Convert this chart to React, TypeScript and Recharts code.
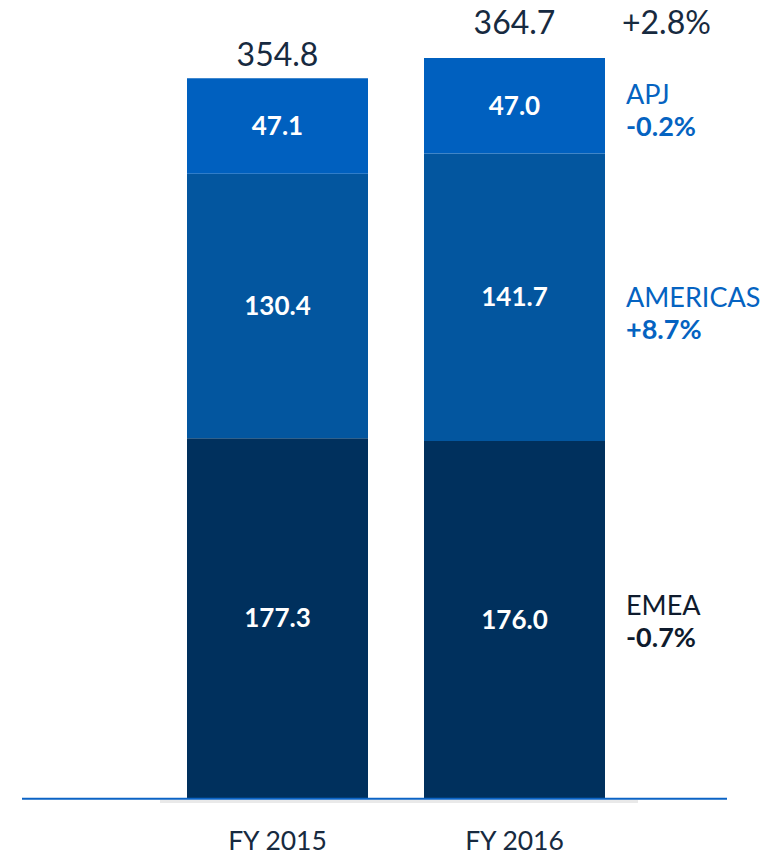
import { Bar, BarChart, LabelList, ReferenceLine, XAxis, YAxis } from 'recharts';

const categories = ['FY 2015', 'FY 2016'];
const emeaValues = [177.3, 176.0];
const americasValues = [130.4, 141.7];
const apjValues = [47.1, 47.0];
const totalValues = [354.8, 364.7];
const regionNames = { emea: 'EMEA', americas: 'AMERICAS', apj: 'APJ' };
const regionChanges = { emea: '-0.7%', americas: '+8.7%', apj: '-0.2%' };
const totalChange = '+2.8%';

const FONT = 'Lato, "Open Sans", sans-serif';
const NAVY_TEXT = '#172a40';

const data = categories.map((name, i) => ({
  name,
  emea: emeaValues[i],
  americas: americasValues[i],
  apj: apjValues[i],
  total: totalValues[i],
}));

const series = [
  { key: 'emea', color: '#00305d', text: '#0f1b2d', dy: 1 },
  { key: 'americas', color: '#03569f', text: '#0563c1', dy: 15 },
  { key: 'apj', color: '#0060bf', text: '#0563c1', dy: 4 },
] as const;

const box = (p: any) => {
  const v = p.viewBox || {};
  return {
    x: Number(p.x ?? v.x),
    y: Number(p.y ?? v.y),
    width: Number(p.width ?? v.width),
    height: Number(p.height ?? v.height),
  };
};

function RegionLabel(props: any, s: (typeof series)[number]) {
  if (props.index !== categories.length - 1) return null;
  const { x, y, width, height } = box(props);
  const cx = x + width + 21;
  const cy = y + height / 2 + s.dy;
  return (
    <g>
      <text x={cx} y={cy - 16} dominantBaseline="central" fontFamily={FONT} fontSize={27} fill={s.text}>
        {regionNames[s.key]}
      </text>
      <text x={cx} y={cy + 16} dominantBaseline="central" fontFamily={FONT} fontSize={27} fontWeight="bold" fill={s.text}>
        {regionChanges[s.key]}
      </text>
    </g>
  );
}

const totalGap = [25, 36.5];

function TotalLabel(props: any) {
  const { x, y, width } = box(props);
  const i = props.index ?? 0;
  const cy = y - totalGap[i];
  return (
    <g>
      <text x={x + width / 2} y={cy} textAnchor="middle" dominantBaseline="central" fontFamily={FONT} fontSize={32} fill={NAVY_TEXT}>
        {Number(props.value).toFixed(1)}
      </text>
      {i === categories.length - 1 && (
        <text x={x + width + 17} y={cy} dominantBaseline="central" fontFamily={FONT} fontSize={32} fill={NAVY_TEXT}>
          {totalChange}
        </text>
      )}
    </g>
  );
}

function CategoryTick({ x, y, payload }: any) {
  return (
    <text x={x} y={y + 42} textAnchor="middle" dominantBaseline="central" fontFamily={FONT} fontSize={26.5} fill={NAVY_TEXT}>
      {payload.value}
    </text>
  );
}

function BaseLine(props: any) {
  const { x1, x2, y1 } = props;
  return (
    <g>
      <line x1={x1 + 1} x2={x2 + 5} y1={y1 + 3.5} y2={y1 + 3.5} stroke="#e9e9e9" strokeWidth={3} />
      <line x1={x1 - 137} x2={x2 + 94} y1={y1 + 0.7} y2={y1 + 0.7} stroke="#0b63c5" strokeWidth={2} />
    </g>
  );
}

export default function App() {
  return (
    <div style={{ width: 777, height: 855, margin: '-8px 0 0 -8px' }}>
      <BarChart width={777} height={855} data={data} margin={{ top: 27, right: 144, bottom: 0, left: 159 }} barSize={181}>
        <XAxis dataKey="name" axisLine={false} tickLine={false} tickSize={0} tickMargin={0} height={57} tick={<CategoryTick />} interval={0} />
        <YAxis hide domain={[0, 380]} />
        {series.map((s) => (
          <Bar key={s.key} dataKey={s.key} stackId="a" fill={s.color} isAnimationActive={false}>
            <LabelList
              dataKey={s.key}
              position="center"
              fill="#ffffff"
              fontFamily={FONT}
              fontSize={26}
              fontWeight="bold"
              formatter={(v: any) => Number(v).toFixed(1)}
            />
            <LabelList dataKey={s.key} content={(p: any) => RegionLabel(p, s)} />
            {s.key === 'apj' && <LabelList dataKey="total" content={TotalLabel} />}
          </Bar>
        ))}
        <ReferenceLine y={0} shape={BaseLine} />
      </BarChart>
    </div>
  );
}
